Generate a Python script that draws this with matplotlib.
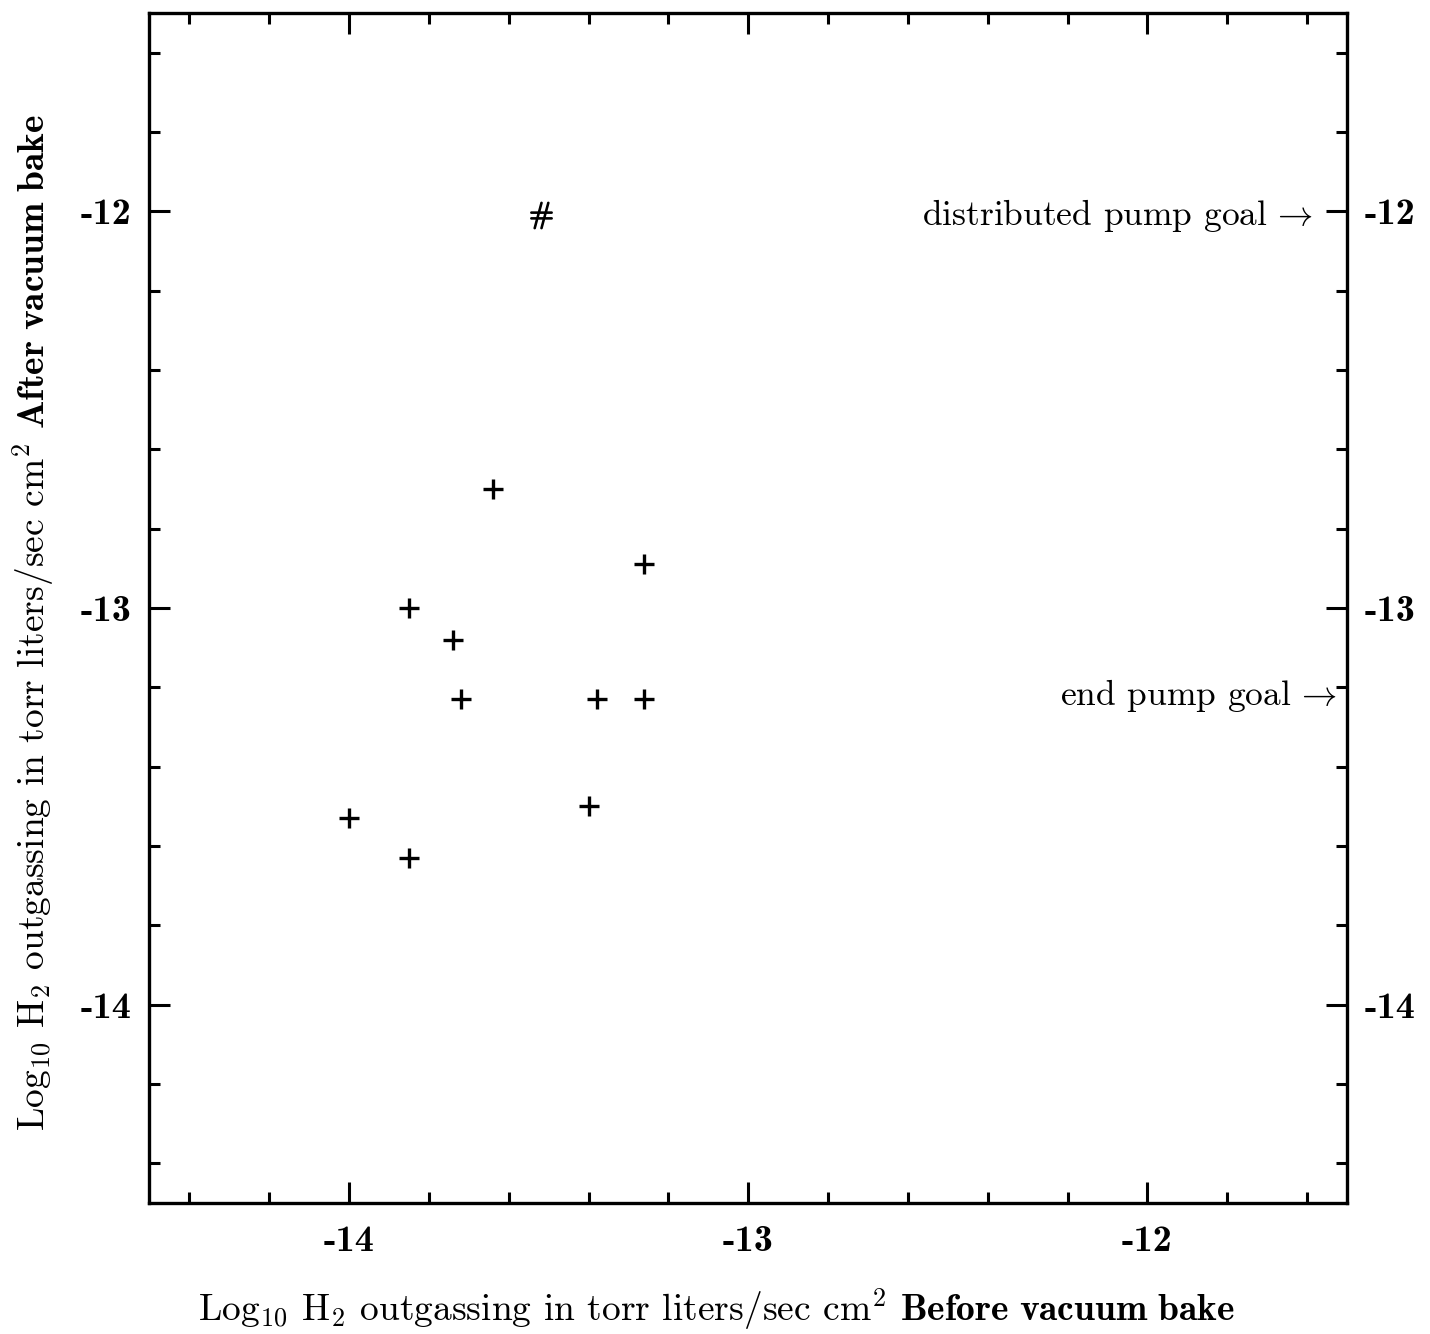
import matplotlib
matplotlib.use("Agg")
import matplotlib.pyplot as plt
from matplotlib.ticker import MultipleLocator, FuncFormatter

# === DATA ===
before_bake = [-13.64, -13.26, -13.85, -13.74, -13.72, -13.38, -13.26, -13.40, -14.00, -13.85]
after_bake = [-12.70, -12.89, -13.00, -13.08, -13.23, -13.23, -13.23, -13.50, -13.53, -13.63]
hash_before = [-13.52]
hash_after = [-12.01]
goal_labels = ['distributed pump goal', 'end pump goal']
goal_values = [-12.01, -13.22]
goal_x = [-11.585, -11.525]

plt.rcParams['font.family'] = 'cmr10'
plt.rcParams['mathtext.fontset'] = 'cm'
plt.rcParams['axes.formatter.use_mathtext'] = True

fig = plt.figure(figsize=(14.30, 13.34), dpi=100)
ax = fig.add_axes([0.1045, 0.0982, 0.8375, 0.892])

ax.plot(before_bake, after_bake, linestyle='none', marker='+', color='black',
        markersize=14, markeredgewidth=2.4)
ax.plot(hash_before, hash_after, linestyle='none', marker=r'$\#$', color='black',
        markersize=19)

for label, yv, xv in zip(goal_labels, goal_values, goal_x):
    ax.text(xv, yv, label + r'$\,\rightarrow$', ha='right', va='center', fontsize=25.5)

ax.set_xlim(-14.5, -11.5)
ax.set_ylim(-14.5, -11.5)

ax.xaxis.set_major_locator(MultipleLocator(1))
ax.xaxis.set_minor_locator(MultipleLocator(0.2))
ax.yaxis.set_major_locator(MultipleLocator(1))
ax.yaxis.set_minor_locator(MultipleLocator(0.2))

# bold labels with a short dash, as in the original plot
fmt = FuncFormatter(lambda v, pos: '%d' % round(v))
ax.xaxis.set_major_formatter(fmt)
ax.yaxis.set_major_formatter(fmt)

ax.tick_params(which='both', direction='in', top=True, right=True,
               labelright=True, width=2.2, labelsize=27.5)
ax.tick_params(which='major', length=15)
ax.tick_params(which='minor', length=8)
ax.tick_params(axis='x', pad=16)
ax.tick_params(axis='y', pad=13)
for t in ax.xaxis.get_major_ticks() + ax.yaxis.get_major_ticks():
    t.label1.set_fontfamily('cmb10')
    t.label2.set_fontfamily('cmb10')
for sp in ax.spines.values():
    sp.set_linewidth(2.4)

ax.set_xlabel(r'Log$_{10}$ H$_2$ outgassing in torr liters/sec cm$^2$ $\mathbf{Before\ vacuum\ bake}$',
              fontsize=27, labelpad=20)
ax.set_ylabel(r'Log$_{10}$ H$_2$ outgassing in torr liters/sec cm$^2$ $\mathbf{After\ vacuum\ bake}$',
              fontsize=27, labelpad=18)
ax.xaxis.label.set_x(0.473)
ax.yaxis.label.set_y(0.488)

fig.savefig('out.png', dpi=100)
